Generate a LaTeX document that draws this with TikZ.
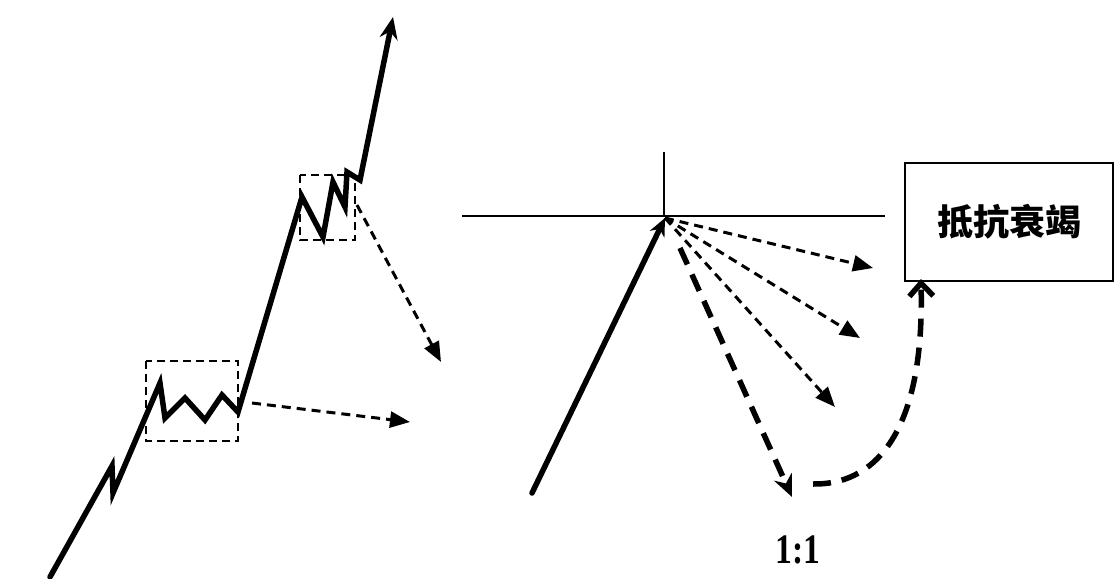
\documentclass[tikz,border=0pt]{standalone}
\usepackage{fontspec}
\setmainfont{Liberation Serif}
\newfontfamily\cjk{Noto Sans CJK SC}
\usetikzlibrary{positioning, arrows.meta, calc}

\begin{document}
\begin{tikzpicture}[x=1pt, y=-1pt,
    trend/.style={line width=5.5pt, line join=miter, line cap=round},
    zonebox/.style={dashed, line width=1.8pt, dash pattern=on 8pt off 5pt},
    smalldash/.style={line width=3pt, dash pattern=on 9pt off 6pt,
        -{Triangle[length=20pt, width=16pt]}},
    bigdash/.style={line width=5.5pt, dash pattern=on 18pt off 11pt}]
    \useasboundingbox (0,0) rectangle (1118,578);
    % --- left: rising trend with two pauses ---
    \draw[trend, -{Stealth[length=22pt, width=18pt]}]
        (50,577) -- (112,466) -- (113,493) -- (160,383) -- (165,418)
        -- (185,398) -- (205,420) -- (222,395) -- (238,412)
        -- (302,197) -- (323,237) -- (333,182) -- (345,207)
        -- (347,172) -- (360,180) -- (393,17);
    \draw[zonebox] (146,361) rectangle (238,441);
    \draw[zonebox] (300,175) rectangle (355,240);
    \coordinate (lowout) at (252,403);
    \coordinate (lowend) at (410,422);
    \coordinate (highout) at (357,205);
    \coordinate (highend) at (441,362);
    \draw[smalldash] (lowout) -- (lowend);
    \draw[smalldash] (highout) -- (highend);
    % --- right: top and the fan of reactions ---
    \draw[line width=1.8pt] (462,216) -- (885,216);
    \draw[line width=1.8pt] (664,152) -- (664,216);
    \coordinate (top) at (665,218);
    \coordinate (start) at (532,493);
    \draw[trend, -{Stealth[length=18pt, width=16pt]}] (start) -- (top);
    \node[draw, line width=2.2pt, minimum width=208pt, minimum height=118pt,
        font=\cjk\bfseries\fontsize{36}{40}\selectfont] (box) at (1009,222) {抵抗衰竭};
    \node[font=\bfseries\fontsize{42}{44}\selectfont] (ratio) at (798,550)
        {\scalebox{0.8}[1]{1:1}};
    \foreach \x/\y in {873/268, 860/338, 835/407} {
        \draw[smalldash] (top) -- (\x,\y);
    }
    \coordinate (down) at (792,497);
    \draw[bigdash, -{Stealth[length=22pt, width=19pt]}] (680,248) -- (down);
    \draw[bigdash, -{Straight Barb[length=13pt, width=24pt]}]
        (813,484) .. controls (870,485) and (925,440) .. ($(box.south west)+(17,-3)$);
\end{tikzpicture}
\end{document}
